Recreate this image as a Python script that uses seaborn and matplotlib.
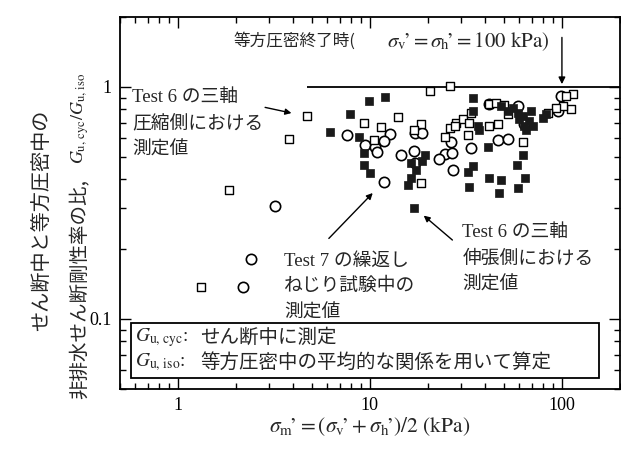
import matplotlib
matplotlib.use("Agg")
import matplotlib.pyplot as plt
import matplotlib.ticker as mticker
from matplotlib.patches import Rectangle
import pandas as pd
import seaborn as sns

# Test 6, triaxial compression side (open squares)
comp_x = [4.72, 3.80, 1.86, 1.32, 20.5, 26.3, 9.3, 11.4, 14.0, 18.4, 16.9, 10.5, 18.4,
          26.0, 24.5, 28.2, 30.7, 33.0, 41.9, 46.6, 32.6, 62.8, 41.9, 45.5, 50.0, 52.5,
          114, 105, 111, 101, 93.1, 84.6, 33.8, 27.6]
comp_y = [0.751, 0.594, 0.360, 0.138, 0.962, 1.01, 0.702, 0.675, 0.745, 0.695, 0.649, 0.588, 0.385,
          0.662, 0.611, 0.702, 0.730, 0.702, 0.681, 0.695, 0.618, 0.577, 0.846, 0.854, 0.838, 0.767,
          0.933, 0.915, 0.805, 0.830, 0.813, 0.774, 0.774, 0.681]

# Test 6, triaxial extension side (filled squares)
ext_x = [9.9, 12.0, 7.9, 6.2, 8.8, 9.3, 9.3, 10.0, 19.3, 18.8, 16.3, 17.3, 16.3, 15.9, 16.9,
         34.6, 34.6, 36.7, 37.2, 41.4, 34.6, 32.6, 41.9, 48.3, 33.0, 47.2, 59.2, 64.3, 58.5, 62.8,
         55.7, 59.2, 62.8, 67.4, 70.8, 65.0, 59.8, 52.5, 48.3, 69.0, 63.5, 79.8, 82.7]
ext_y = [0.871, 0.906, 0.767, 0.642, 0.611, 0.517, 0.460, 0.425, 0.507, 0.478, 0.469, 0.438, 0.404, 0.378, 0.301,
         0.898, 0.790, 0.681, 0.655, 0.549, 0.455, 0.429, 0.404, 0.397, 0.370, 0.349, 0.366, 0.404, 0.460, 0.507,
         0.813, 0.774, 0.751, 0.716, 0.681, 0.649, 0.730, 0.790, 0.830, 0.790, 0.681, 0.738, 0.767]

# Test 7, cyclic torsional shear (open circles)
tor_x = [3.22, 2.42, 2.20, 7.6, 12.8, 11.8, 9.4, 10.6, 10.9, 17.1, 18.8, 16.9, 14.6, 17.1, 11.8,
         26.6, 24.5, 22.8, 26.9, 27.2, 33.8, 46.6, 52.5, 41.9, 59.2, 63.5, 98.8, 95.3]
tor_y = [0.307, 0.182, 0.138, 0.618, 0.624, 0.582, 0.560, 0.549, 0.522, 0.630, 0.630, 0.527, 0.507, 0.469, 0.389,
         0.577, 0.512, 0.488, 0.517, 0.438, 0.543, 0.588, 0.594, 0.846, 0.830, 0.695, 0.915, 0.790]

x_ticks = [1, 10, 100]
x_tick_labels = ["1", "10", "100"]
y_ticks = [0.1, 1]
y_tick_labels = ["0.1", "1"]

sns.set_style("ticks")
plt.rcParams["font.family"] = ["Liberation Serif", "Noto Sans CJK JP"]
plt.rcParams["mathtext.fontset"] = "stix"
JP = ["Liberation Serif", "Noto Sans CJK JP"]
CJK = "Noto Sans CJK JP"

fig = plt.figure(figsize=(6.21, 4.49), dpi=100)
ax = fig.add_axes([0.193, 0.134, 0.805, 0.828])

df_comp = pd.DataFrame({"x": comp_x, "y": comp_y})
df_ext = pd.DataFrame({"x": ext_x, "y": ext_y})
df_tor = pd.DataFrame({"x": tor_x, "y": tor_y})

sns.scatterplot(data=df_tor, x="x", y="y", marker="o", s=55, facecolor="white",
                edgecolor="black", linewidth=1.2, ax=ax, zorder=3)
sns.scatterplot(data=df_comp, x="x", y="y", marker="s", s=28, facecolor="white",
                edgecolor="black", linewidth=1.0, ax=ax, zorder=4)
sns.scatterplot(data=df_ext, x="x", y="y", marker="s", s=30, color="#1a1a1a",
                edgecolor="#1a1a1a", linewidth=0.5, ax=ax, zorder=5)

ax.set_xscale("log")
ax.set_yscale("log")
ax.set_xlim(0.5, 200)
ax.set_ylim(0.05, 2)

ax.xaxis.set_major_locator(mticker.FixedLocator(x_ticks))
ax.xaxis.set_major_formatter(mticker.FixedFormatter(x_tick_labels))
ax.yaxis.set_major_locator(mticker.FixedLocator(y_ticks))
ax.yaxis.set_major_formatter(mticker.FixedFormatter(y_tick_labels))
ax.xaxis.set_minor_locator(mticker.LogLocator(subs=range(2, 10)))
ax.yaxis.set_minor_locator(mticker.LogLocator(subs=range(2, 10)))
ax.xaxis.set_minor_formatter(mticker.NullFormatter())
ax.yaxis.set_minor_formatter(mticker.NullFormatter())
ax.tick_params(which="both", direction="in", top=True, right=True, width=1.0, colors="black")
ax.tick_params(which="major", length=8, labelsize=13, pad=6)
ax.tick_params(which="minor", length=4)
for sp in ax.spines.values():
    sp.set_linewidth(1.3)
    sp.set_color("black")

ax.set_xlabel(r"$\sigma_{\rm m}\!\mathrm{’=(}\sigma_{\rm v}\!\mathrm{’+}\sigma_{\rm h}\!\mathrm{’)/2\ (kPa)}$",
              fontsize=15.5, labelpad=1)
ax.set_ylabel("")

# y label built from pieces
fig.text(42 / 621, 1 - 220 / 449, "せん断中と等方圧密中の", family=CJK, fontsize=14.5,
         rotation=90, ha="center", va="center")
fig.text(80 / 621, 1 - 399 / 449, "非排水せん断剛性率の比,", family=CJK, fontsize=14,
         rotation=90, ha="center", va="bottom")
fig.text(80 / 621, 1 - 164 / 449, r"$G_{\rm u,\,cyc}/G_{\rm u,\,iso}$", fontsize=13,
         rotation=90, ha="center", va="bottom")

# isotropic consolidation end
ax.hlines(1.0, 4.7, 200, color="black", linewidth=1.3, zorder=2)
ax.annotate("", xy=(100, 1.0), xytext=(100, 1.68),
            arrowprops=dict(arrowstyle="-|>", color="black", lw=1.0, mutation_scale=10))
ax.text(0.228, 0.935, "等方圧密終了時(", transform=ax.transAxes, family=CJK, fontsize=12,
        ha="left", va="center")
ax.text(0.535, 0.935, r"$\sigma_{\rm v}\!\mathrm{’=}\sigma_{\rm h}\!\mathrm{’=100\ kPa)}$",
        transform=ax.transAxes, fontsize=15, ha="left", va="center")

# annotations
ax.text(0.025, 0.712, "Test 6 の三軸\n圧縮側における\n測定値", transform=ax.transAxes,
        family=JP, fontsize=13.5, ha="left", va="center", linespacing=1.65)
ax.annotate("", xy=(4.04, 0.767), xytext=(2.76, 0.821),
            arrowprops=dict(arrowstyle="-|>", color="black", lw=1.0, mutation_scale=9))

ax.text(0.329, 0.274, "Test 7 の繰返し\nねじり試験中の\n測定値", transform=ax.transAxes,
        family=JP, fontsize=13.5, ha="left", va="center", linespacing=1.65)
ax.annotate("", xy=(10.6, 0.356), xytext=(5.98, 0.218),
            arrowprops=dict(arrowstyle="-|>", color="black", lw=1.0, mutation_scale=9))

ax.text(0.685, 0.35, "Test 6 の三軸\n伸張側における\n測定値", transform=ax.transAxes,
        family=JP, fontsize=13.5, ha="left", va="center", linespacing=1.65)
ax.annotate("", xy=(18.6, 0.284), xytext=(27.6, 0.215),
            arrowprops=dict(arrowstyle="-|>", color="black", lw=1.0, mutation_scale=9))

# definition box
ax.add_patch(Rectangle((0.022, 0.03), 0.936, 0.147, transform=ax.transAxes,
                       facecolor="white", edgecolor="black", linewidth=1.3, zorder=6))
ax.text(0.03, 0.138, r"$G_{\rm u,\,cyc}$:", transform=ax.transAxes, fontsize=14,
        ha="left", va="center", zorder=7)
ax.text(0.16, 0.138, "せん断中に測定", transform=ax.transAxes, family=CJK, fontsize=14,
        ha="left", va="center", zorder=7)
ax.text(0.03, 0.072, r"$G_{\rm u,\,iso}$:", transform=ax.transAxes, fontsize=14,
        ha="left", va="center", zorder=7)
ax.text(0.16, 0.072, "等方圧密中の平均的な関係を用いて算定", transform=ax.transAxes,
        family=CJK, fontsize=14, ha="left", va="center", zorder=7)

fig.savefig("out.png", dpi=100)
